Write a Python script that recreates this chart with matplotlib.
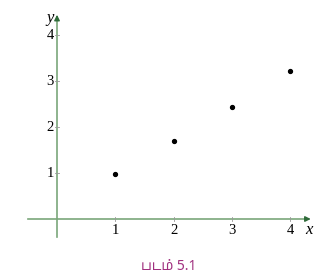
import matplotlib.pyplot as plt

xs = [1, 2, 3, 4]
ys = [0.98, 1.70, 2.43, 3.22]
xticks = [1, 2, 3, 4]
yticks = [1, 2, 3, 4]
caption = 'படம் 5.1'

axis_col = '#7aa77a'; head_col = '#2f6b3a'

fig = plt.figure(figsize=(3.32, 2.80), dpi=100)
ax = fig.add_axes([0, 0, 1, 1])
ax.set_xlim(-0.978, 4.717); ax.set_ylim(-1.326, 4.761)
ax.axis('off')

# axes with arrow heads
ax.plot([-0.50, 4.30], [0, 0], color=axis_col, lw=1.2)
ax.plot([0, 0], [-0.39, 4.40], color=axis_col, lw=1.2)
ax.annotate('', xy=(4.40, 0), xytext=(4.20, 0),
            arrowprops=dict(arrowstyle='-|>', color=head_col, lw=1.0, mutation_scale=8))
ax.annotate('', xy=(0, 4.50), xytext=(0, 4.30),
            arrowprops=dict(arrowstyle='-|>', color=head_col, lw=1.0, mutation_scale=8))

for t in xticks:
    ax.plot([t, t], [-0.04, 0.04], color='#999999', lw=0.6)
    ax.text(t, -0.10, str(t), ha='center', va='top', fontsize=10.5, family='Liberation Serif')
for t in yticks:
    ax.plot([-0.04, 0.04], [t, t], color='#999999', lw=0.6)
    ax.text(-0.05, t, str(t), ha='right', va='center', fontsize=10.5, family='Liberation Serif')

ax.text(4.32, -0.24, 'x', ha='center', va='center', fontsize=12, style='italic', family='Liberation Serif')
ax.text(-0.12, 4.36, 'y', ha='center', va='center', fontsize=12, style='italic', family='Liberation Serif')

ax.plot(xs, ys, 'o', color='black', ms=2.8)

fig.text(0.508, 0.05, caption, ha='center', va='center', fontsize=10, color='#a0307f',
         weight='medium', family=['Noto Sans Tamil', 'Noto Sans', 'DejaVu Sans'])

fig.savefig('out.png', dpi=100)
